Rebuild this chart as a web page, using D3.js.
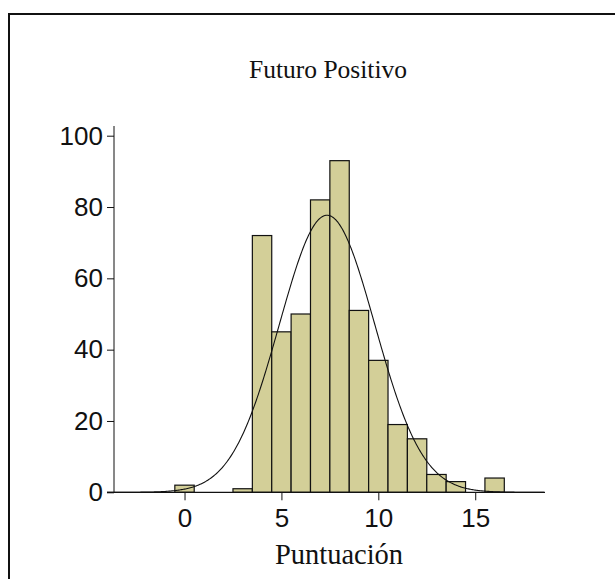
<!DOCTYPE html>
<html>
<head>
<meta charset="utf-8">
<script src="https://cdn.jsdelivr.net/npm/d3@7"></script>
<style>
  body { margin: 0; background: #fff; }
  svg { display: block; }
</style>
</head>
<body>
<script>

// DATA
// =============================================================================

const scores = [0, 3, 4, 5, 6, 7, 8, 9, 10, 11, 12, 13, 14, 16];
const counts = [2, 1, 72, 45, 50, 82, 93, 51, 37, 19, 15, 5, 3, 4];
const xTicks = [0, 5, 10, 15];
const yTicks = [0, 20, 40, 60, 80, 100];
const title = "Futuro Positivo";
const xLabel = "Puntuación";

// CONFIG VARS
// =============================================================================

const width = 615;
const height = 579;
const binWidth = 1;
const barColor = "#d3cf98";

// SCALES
// =============================================================================

const xScale = d3.scaleLinear()
    .domain([-4, 18.6])
    .range([107, 545]);

const yScale = d3.scaleLinear()
    .domain([0, 100])
    .range([492.3, 135.7]);

// normal curve fitted to the binned data
const n = d3.sum(counts);
const mean = d3.sum(scores, (s, i) => s * counts[i]) / n;
const sd = Math.sqrt(d3.sum(scores, (s, i) => counts[i] * (s - mean) ** 2) / (n - 1));

function normalCount(x) {
    const z = (x - mean) / sd;
    return n * binWidth * Math.exp(-0.5 * z * z) / (sd * Math.sqrt(2 * Math.PI));
}

// INITIALIZE THE SVG
// =============================================================================

const svg = d3.select("body")
    .append("svg")
    .attr("width", width)
    .attr("height", height);

// outer frame (only top and left edges show)
svg.append("path")
    .attr("d", `M9,${height} V14 H${width}`)
    .attr("fill", "none")
    .attr("stroke", "#111")
    .attr("stroke-width", 2);

// BARS
// =============================================================================

svg.selectAll("rect.bar")
    .data(scores)
    .enter()
    .append("rect")
    .attr("class", "bar")
    .attr("x", d => xScale(d - binWidth / 2))
    .attr("width", d => xScale(d + binWidth / 2) - xScale(d - binWidth / 2))
    .attr("y", (d, i) => yScale(counts[i]))
    .attr("height", (d, i) => yScale(0) - yScale(counts[i]))
    .attr("fill", barColor)
    .attr("stroke", "#111")
    .attr("stroke-width", 1.2);

// NORMAL CURVE
// =============================================================================

const curveXs = d3.range(xScale.domain()[0], xScale.domain()[1], 0.05);

svg.append("path")
    .datum(curveXs)
    .attr("fill", "none")
    .attr("stroke", "#111")
    .attr("stroke-width", 1.1)
    .attr("d", d3.line()
        .x(d => xScale(d))
        .y(d => yScale(normalCount(d))));

// AXES
// =============================================================================

const tickFont = "'Liberation Sans', Arial, Helvetica, sans-serif";

const yAxis = svg.append("g")
    .attr("transform", `translate(114,0)`)
    .call(d3.axisLeft(yScale).tickValues(yTicks).tickSize(7).tickPadding(4));

yAxis.select(".domain").remove();
yAxis.selectAll("line").attr("stroke", "#111");
yAxis.selectAll("text")
    .attr("font-family", tickFont)
    .attr("font-size", 26)
    .attr("fill", "#111");

svg.append("line")
    .attr("x1", 114).attr("x2", 114)
    .attr("y1", 126).attr("y2", yScale(0))
    .attr("stroke", "#111");

const xAxis = svg.append("g")
    .attr("transform", `translate(0,${yScale(0)})`)
    .call(d3.axisBottom(xScale).tickValues(xTicks).tickSize(8).tickPadding(8));

xAxis.select(".domain").remove();
xAxis.selectAll("line").attr("stroke", "#111");
xAxis.selectAll("text")
    .attr("font-family", tickFont)
    .attr("font-size", 26)
    .attr("fill", "#111");

svg.append("line")
    .attr("x1", 107).attr("x2", 545)
    .attr("y1", yScale(0)).attr("y2", yScale(0))
    .attr("stroke", "#111")
    .attr("stroke-width", 1.2);

// TITLES
// =============================================================================

svg.append("text")
    .attr("x", 328)
    .attr("y", 78)
    .attr("text-anchor", "middle")
    .attr("font-family", "'Liberation Serif', 'Times New Roman', serif")
    .attr("font-size", 25.5)
    .attr("fill", "#111")
    .text(title);

svg.append("text")
    .attr("x", 339)
    .attr("y", 564)
    .attr("text-anchor", "middle")
    .attr("font-family", "'Liberation Serif', 'Times New Roman', serif")
    .attr("font-size", 28.5)
    .attr("fill", "#111")
    .text(xLabel);

</script>
</body>
</html>
